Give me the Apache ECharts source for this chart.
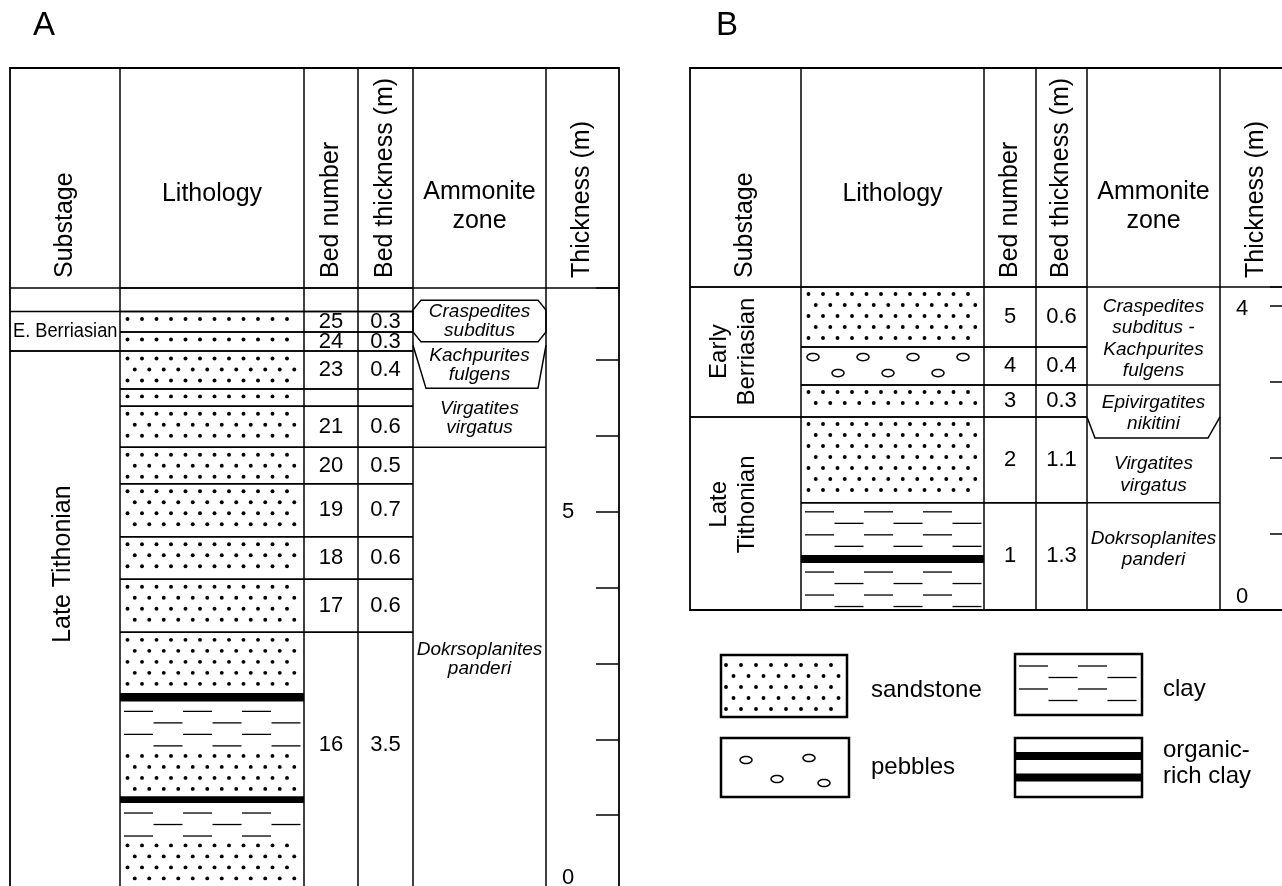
<!DOCTYPE html>
<html><head><meta charset="utf-8">
<script src="https://cdn.jsdelivr.net/npm/echarts@6/dist/echarts.min.js"></script>
<style>html,body{margin:0;padding:0;background:#fff}#c{width:1282px;height:886px}</style>
</head><body><div id="c"></div>
<script>
// ================= DATA (metres) =================
// ---- Section A ----
const bedNumbersA   = ['', '25', '24', '23', '', '21', '20', '19', '18', '17', '16'];
const bedThicknessA = ['', '0.3', '0.3', '0.4', '', '0.6', '0.5', '0.7', '0.6', '0.6', '3.5'];
const bedTopA       = [7.95, 7.64, 7.37, 7.12, 6.62, 6.39, 5.85, 5.37, 4.67, 4.11, 3.41];
const bedBaseA      = [7.64, 7.37, 7.12, 6.62, 6.39, 5.85, 5.37, 4.67, 4.11, 3.41, 0];
const bedLabelAtA   = [null, null, null, null, null, null, null, null, null, null, 1.92];

const lithTypeA = ['sand','sand','sand','sand','sand','sand','sand','sand','sand','sand','organic','clay','sand','organic','clay','sand'];
const lithTopA  = [7.64, 7.37, 7.12, 6.62, 6.39, 5.85, 5.37, 4.67, 4.11, 3.41, 2.61, 2.50, 1.88, 1.25, 1.16, 0.70];
const lithBaseA = [7.37, 7.12, 6.62, 6.39, 5.85, 5.37, 4.67, 4.11, 3.41, 2.61, 2.50, 1.88, 1.25, 1.16, 0.70, 0];

const substageNamesA   = ['E. Berriasian', 'Late Tithonian'];
const substageTopA     = [7.64, 7.12];
const substageBaseA    = [7.12, 0];
const substageLabelAtA = [7.38, 4.31];

const zoneNamesA   = ['Craspedites\nsubditus', 'Kachpurites\nfulgens', 'Virgatites\nvirgatus', 'Dokrsoplanites\npanderi'];
const zoneLabelAtA = [7.51, 6.93, 6.235, 3.06];
const zoneShapeA   = ['hex', 'funnel', 'line', 'none'];
const zoneLevelsA  = [[7.66, 7.79, 7.24, 7.37], [7.195, 6.627], [5.85], []];

const tickLabelsA = [5, 0];

// ---- Section B ----
const bedNumbersB   = ['5', '4', '3', '2', '1'];
const bedThicknessB = ['0.6', '0.4', '0.3', '1.1', '1.3'];
const bedTopB       = [4.25, 3.46, 2.96, 2.54, 1.41];
const bedBaseB      = [3.46, 2.96, 2.54, 1.41, 0];
const bedLabelAtB   = [null, null, null, null, null];

const lithTypeB = ['sand', 'pebbles', 'sand', 'sand', 'clay', 'organic', 'clay'];
const lithTopB  = [4.25, 3.46, 2.96, 2.54, 1.41, 0.724, 0.618];
const lithBaseB = [3.46, 2.96, 2.54, 1.41, 0.724, 0.618, 0];

const substageNamesB   = ['Early\nBerriasian', 'Late\nTithonian'];
const substageTopB     = [4.25, 2.54];
const substageBaseB    = [2.54, 0];
const substageLabelAtB = [3.40, 1.39];

const zoneNamesB   = ['Craspedites\nsubditus -\nKachpurites\nfulgens', 'Epivirgatites\nnikitini', 'Virgatites\nvirgatus', 'Dokrsoplanites\npanderi'];
const zoneLabelAtB = [3.57, 2.59, 1.78, 0.80];
const zoneShapeB   = ['line', 'funnel', 'line', 'none'];
const zoneLevelsB  = [[2.96], [2.54, 2.263], [1.41], []];

const tickLabelsB = [4, 0];

// ---- Headers & legend text ----
const columnTitles = ['Substage', 'Lithology', 'Bed number', 'Bed thickness (m)', 'Ammonite\nzone', 'Thickness (m)'];
const legendKeys   = ['sand', 'clay', 'pebbles', 'organic'];
const legendLabels = ['sandstone', 'clay', 'pebbles', 'organic-\nrich clay'];

// ================= LAYOUT & STYLE =================
const FONT = '"Liberation Sans", Arial, Helvetica, sans-serif';
const INK = '#000';
const LW = 1.5;
const LAYOUT = {
  A: { cols: [10, 120, 304, 358, 413, 546, 619], top: 68, head: 288, bottom: 905, grid: 0,
       dotOff: 7.5, clayOff: 10, zoneFont: 19, zoneLH: 19, subFont: 25, subLH: 28, subDX: -2 },
  B: { cols: [690, 801, 984, 1036, 1087, 1220, 1293], top: 68, head: 287, bottom: 610, grid: 1,
       dotOff: 7, clayOff: 9, zoneFont: 19, zoneLH: 21.5, subFont: 24, subLH: 28.5, subDX: -12 }
};
const ZONE_INSET = { A: { hex: 8, funnel: [13, 8] }, B: { hex: 8, funnel: [8, 12] } };
const TICK_LABEL_NUDGE = { A: { 0: -13 }, B: { 4: 3, 0: -13 } };

function txt(text, x, y, o) {
  o = o || {};
  return {
    type: 'text', x: x, y: y, rotation: o.rot || 0, scaleX: o.sx || 1, scaleY: o.sy || 1,
    style: {
      text: text, fill: INK, fontSize: o.size || 22, fontFamily: FONT,
      fontStyle: o.italic ? 'italic' : 'normal', align: o.align || 'center',
      verticalAlign: 'middle', lineHeight: o.lh || Math.round((o.size || 22) * 1.15)
    }
  };
}
function ln(x1, y1, x2, y2, w) {
  return { type: 'line', shape: { x1: x1, y1: y1, x2: x2, y2: y2 }, style: { stroke: INK, lineWidth: w || LW } };
}

// ---- lithology patterns ----
function sandDots(L, R, T, B, o) {
  const off = o.off, step = 11, x0 = o.x0 != null ? o.x0 : 7.5, dx = o.dx || 14.5, m = 3.5;
  const els = []; let k = 0;
  for (let y = T + off; y <= B - m; y += step, k++) {
    for (let x = L + x0 + (k % 2 ? dx / 2 : 0); x <= R - 4; x += dx) {
      els.push({ type: 'circle', shape: { cx: x, cy: y, r: 1.95 }, style: { fill: INK } });
    }
  }
  return els;
}
function clayDashes(L, R, T, B, o) {
  const off = o.off, step = 11.5, x0 = 4, len = 29, per = 59, m = o.m != null ? o.m : 0.5;
  const els = []; let k = 0;
  for (let y = T + off; y <= B - m; y += step, k++) {
    for (let x = L + x0 + (k % 2 ? per / 2 : 0); x + len <= R - 1; x += per) {
      els.push(ln(x, y, x + len, y, 1.3));
    }
  }
  return els;
}
function ellipse(cx, cy, rx, ry) {
  const pts = [];
  for (let i = 0; i < 28; i++) { const a = i / 28 * Math.PI * 2; pts.push([cx + rx * Math.cos(a), cy + ry * Math.sin(a)]); }
  return { type: 'polygon', shape: { points: pts }, style: { fill: '#fff', stroke: INK, lineWidth: 1.5 } };
}
function pebbles(L, R, T, B) {
  const els = [];
  for (let x = L + 12; x <= R - 6; x += 50) els.push(ellipse(x, T + 10, 6, 3.6));
  for (let x = L + 37; x <= R - 6; x += 50) els.push(ellipse(x, T + 26, 6, 3.6));
  return els;
}
function pattern(type, L, R, T, B, P) {
  const lay = LAYOUT[P];
  if (type === 'sand') return sandDots(L, R, T, B, { off: lay.dotOff });
  if (type === 'clay') return clayDashes(L, R, T, B, { off: lay.clayOff });
  if (type === 'pebbles') return pebbles(L, R, T, B);
  if (type === 'organic') return [{ type: 'rect', shape: { x: L, y: T, width: R - L, height: B - T }, style: { fill: INK } }];
  return [];
}

// ================= SERIES =================
function rows(tops, bases) { return tops.map((t, i) => [0.5, t, bases[i]]); }

function lithSeries(P, types, tops, bases) {
  const g = LAYOUT[P].grid;
  return {
    type: 'custom', xAxisIndex: g, yAxisIndex: g, silent: true, clip: false, z: 1,
    data: rows(tops, bases), encode: { x: 0, y: [1, 2] },
    renderItem: function (params, api) {
      const c = LAYOUT[P].cols;
      const T = api.coord([0.5, api.value(1)])[1], B = api.coord([0.5, api.value(2)])[1];
      return { type: 'group', children: pattern(types[params.dataIndex], c[1], c[2], T, B, P) };
    }
  };
}

function bedSeries(P, nums, thick, tops, bases, labelAt) {
  const g = LAYOUT[P].grid;
  return {
    type: 'custom', xAxisIndex: g, yAxisIndex: g, silent: true, clip: false, z: 3,
    data: rows(tops, bases), encode: { x: 0, y: [1, 2] },
    renderItem: function (params, api) {
      const i = params.dataIndex, c = LAYOUT[P].cols;
      const T = api.coord([0.5, api.value(1)])[1], B = api.coord([0.5, api.value(2)])[1];
      const ym = labelAt[i] != null ? api.coord([0.5, labelAt[i]])[1] : (T + B) / 2;
      const kids = [ln(c[1], T, c[4], T), ln(c[1], B, c[4], B)];
      if (nums[i]) kids.push(txt(nums[i], (c[2] + c[3]) / 2, ym, { size: 22 }));
      if (thick[i]) kids.push(txt(thick[i], (c[3] + c[4]) / 2, ym, { size: 22 }));
      return { type: 'group', children: kids };
    }
  };
}

function substageSeries(P, names, tops, bases, labelAt) {
  const g = LAYOUT[P].grid, lay = LAYOUT[P];
  return {
    type: 'custom', xAxisIndex: g, yAxisIndex: g, silent: true, clip: false, z: 3,
    data: rows(tops, bases), encode: { x: 0, y: [1, 2] },
    renderItem: function (params, api) {
      const i = params.dataIndex, c = lay.cols;
      const T = api.coord([0.5, api.value(1)])[1], B = api.coord([0.5, api.value(2)])[1];
      const ym = api.coord([0.5, labelAt[i]])[1];
      const kids = [ln(c[0], T, c[1], T), ln(c[0], B, c[1], B)];
      if (B - T < 60) {
        kids.push(txt(names[i], c[0] + 3, ym, { size: 20.5, align: 'left', sx: 0.89 }));
      } else {
        kids.push(txt(names[i], (c[0] + c[1]) / 2 + lay.subDX, ym, { size: lay.subFont, lh: lay.subLH, rot: Math.PI / 2 }));
      }
      return { type: 'group', children: kids };
    }
  };
}

function zoneSeries(P, names, labelAt, shapes, levels) {
  const g = LAYOUT[P].grid, lay = LAYOUT[P], ins = ZONE_INSET[P];
  return {
    type: 'custom', xAxisIndex: g, yAxisIndex: g, silent: true, clip: false, z: 3,
    data: labelAt.map(v => [0.5, v]), encode: { x: 0, y: 1 },
    renderItem: function (params, api) {
      const i = params.dataIndex, c = lay.cols, L = c[4], R = c[5];
      const Y = v => api.coord([0.5, v])[1];
      const st = { fill: 'none', stroke: INK, lineWidth: LW };
      const kids = [];
      const lv = levels[i].map(Y);
      if (shapes[i] === 'hex') {
        const h = ins.hex;
        kids.push({ type: 'polygon', shape: { points: [[L, lv[0]], [L + h, lv[1]], [R - h, lv[1]], [R, lv[0]], [R, lv[3]], [R - h, lv[2]], [L + h, lv[2]], [L, lv[3]]] }, style: st });
      } else if (shapes[i] === 'funnel') {
        kids.push({ type: 'polyline', shape: { points: [[L, lv[0]], [L + ins.funnel[0], lv[1]], [R - ins.funnel[1], lv[1]], [R, lv[0]]] }, style: st });
      } else if (shapes[i] === 'line') {
        kids.push(ln(L, lv[0], R, lv[0]));
      }
      kids.push(txt(names[i], (L + R) / 2, api.coord([0.5, api.value(1)])[1], { size: lay.zoneFont, lh: lay.zoneLH, italic: true }));
      return { type: 'group', children: kids };
    }
  };
}

function tickLabelSeries(P, labels) {
  const g = LAYOUT[P].grid, lay = LAYOUT[P];
  return {
    type: 'custom', xAxisIndex: g, yAxisIndex: g, silent: true, clip: false, z: 3,
    data: labels.map(v => [0.5, v]), encode: { x: 0, y: 1 },
    renderItem: function (params, api) {
      const v = api.value(1);
      const y = api.coord([0.5, v])[1] + (TICK_LABEL_NUDGE[P][v] || 0);
      return txt(String(v), lay.cols[5] + 22, y, { size: 22 });
    }
  };
}

// ================= STATIC FRAME (graphic) =================
function frame(P) {
  const lay = LAYOUT[P], c = lay.cols, els = [];
  els.push({ type: 'rect', shape: { x: c[0], y: lay.top, width: c[6] - c[0], height: lay.bottom - lay.top }, style: { fill: 'none', stroke: INK, lineWidth: 1.8 } });
  els.push(ln(c[0], lay.head, c[6], lay.head));
  for (let i = 1; i <= 5; i++) els.push(ln(c[i], lay.top, c[i], lay.bottom));
  const mid = i => (c[i] + c[i + 1]) / 2, yb = 278;
  columnTitles.forEach((t, i) => {
    if (i === 1) els.push(txt(t, mid(i), 194, { size: 25 }));
    else if (i === 4) els.push(txt(t, mid(i), 207, { size: 25, lh: 29 }));
    else els.push(txt(t, mid(i), yb, { size: 25, align: 'left', rot: Math.PI / 2 }));
  });
  return els;
}

const LEGEND_BOX = {
  sand:    { x: 721, y: 655, w: 126, h: 62, tx: 871, ty: 690 },
  clay:    { x: 1015, y: 654, w: 127, h: 61, tx: 1163, ty: 689 },
  pebbles: { x: 721, y: 738, w: 128, h: 59, tx: 871, ty: 767 },
  organic: { x: 1015, y: 738, w: 127, h: 59, tx: 1163, ty: 763 }
};
function legend() {
  const els = [];
  legendKeys.forEach((k, i) => {
    const b = LEGEND_BOX[k], L = b.x, R = b.x + b.w, T = b.y, B = b.y + b.h;
    let kids = [];
    if (k === 'sand') kids = sandDots(L, R, T, B, { off: 10, x0: 5, dx: 15 });
    if (k === 'clay') kids = clayDashes(L, R, T, B, { off: 12, m: 6 });
    if (k === 'pebbles') kids = [ellipse(L + 25, T + 22, 6, 3.6), ellipse(L + 88, T + 20, 6, 3.6), ellipse(L + 56, T + 41, 6, 3.6), ellipse(L + 103, T + 45, 6, 3.6)];
    if (k === 'organic') kids = [
      { type: 'rect', shape: { x: L, y: T + 14, width: b.w, height: 8 }, style: { fill: INK } },
      { type: 'rect', shape: { x: L, y: T + 35.5, width: b.w, height: 8 }, style: { fill: INK } }];
    els.push.apply(els, kids);
    els.push({ type: 'rect', shape: { x: L, y: T, width: b.w, height: b.h }, style: { fill: 'none', stroke: INK, lineWidth: 2.5 } });
    els.push(txt(legendLabels[i], b.tx, b.ty, { size: 24, align: 'left', lh: 26 }));
  });
  return els;
}

const graphicEls = [].concat(
  frame('A'), frame('B'), legend(),
  [txt('A', 33, 26, { size: 33, align: 'left' }), txt('B', 716, 26, { size: 33, align: 'left' })]
);

// ================= CHART =================
function yAxis(g, max) {
  return {
    gridIndex: g, type: 'value', min: 0, max: max, interval: 1, position: 'right',
    axisLine: { show: false, onZero: false }, axisLabel: { show: false }, splitLine: { show: false },
    axisTick: { show: true, inside: true, length: 23, lineStyle: { color: INK, width: LW } }
  };
}
const chart = echarts.init(document.getElementById('c'), null, { renderer: 'canvas', width: 1282, height: 886 });
chart.setOption({
  backgroundColor: '#fff',
  animation: false,
  grid: [
    { left: 10, right: 1282 - 619, top: 288, bottom: -5, outerBoundsMode: 'none', containLabel: false },
    { left: 690, right: 1282 - 1293, top: 287, bottom: 886 - 610, outerBoundsMode: 'none', containLabel: false }
  ],
  xAxis: [
    { gridIndex: 0, type: 'value', min: 0, max: 1, show: false },
    { gridIndex: 1, type: 'value', min: 0, max: 1, show: false }
  ],
  yAxis: [yAxis(0, 7.95), yAxis(1, 4.25)],
  graphic: { elements: graphicEls },
  series: [
    lithSeries('A', lithTypeA, lithTopA, lithBaseA),
    bedSeries('A', bedNumbersA, bedThicknessA, bedTopA, bedBaseA, bedLabelAtA),
    substageSeries('A', substageNamesA, substageTopA, substageBaseA, substageLabelAtA),
    zoneSeries('A', zoneNamesA, zoneLabelAtA, zoneShapeA, zoneLevelsA),
    tickLabelSeries('A', tickLabelsA),
    lithSeries('B', lithTypeB, lithTopB, lithBaseB),
    bedSeries('B', bedNumbersB, bedThicknessB, bedTopB, bedBaseB, bedLabelAtB),
    substageSeries('B', substageNamesB, substageTopB, substageBaseB, substageLabelAtB),
    zoneSeries('B', zoneNamesB, zoneLabelAtB, zoneShapeB, zoneLevelsB),
    tickLabelSeries('B', tickLabelsB)
  ]
});
</script>
</body></html>
